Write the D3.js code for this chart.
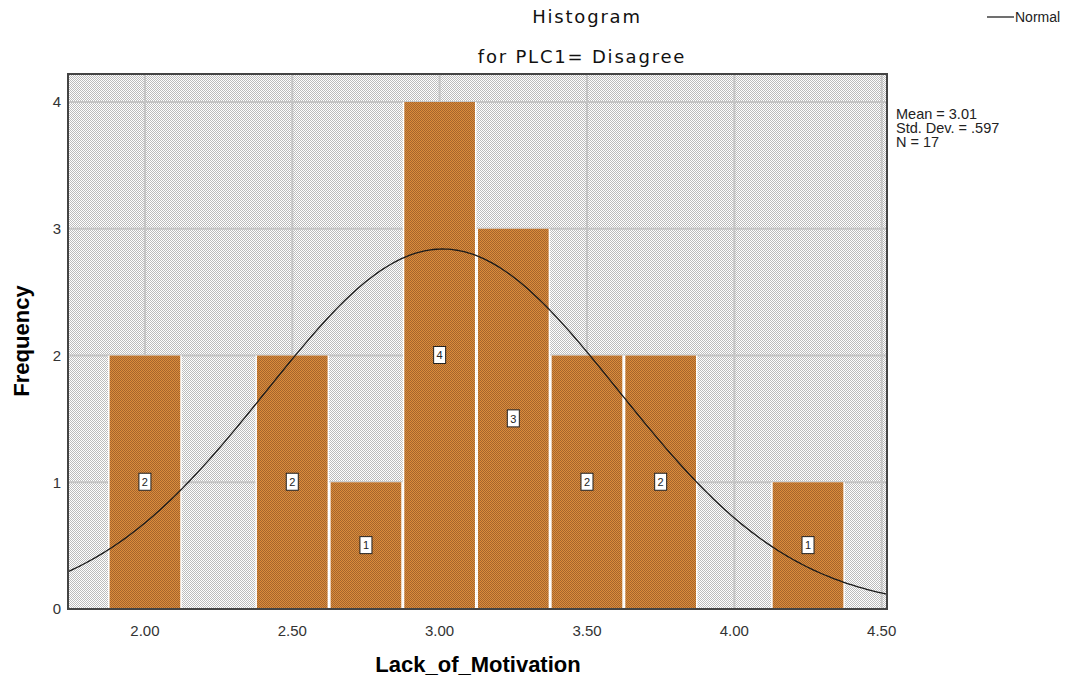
<!DOCTYPE html>
<html>
<head>
<meta charset="utf-8">
<script src="https://cdn.jsdelivr.net/npm/d3@7"></script>
<style>
  body { margin: 0; background: #fff; }
  svg { display: block; }
</style>
</head>
<body>
<svg id="chart" width="1068" height="684"></svg>
<script>
// bin centres and counts
const binCenters = [2.00, 2.25, 2.50, 2.75, 3.00, 3.25, 3.50, 3.75, 4.00, 4.25];
const counts = [2, 0, 2, 1, 4, 3, 2, 2, 0, 1];
const binWidth = 0.25;
const xTicks = [2.0, 2.5, 3.0, 3.5, 4.0, 4.5];
const yTicks = [0, 1, 2, 3, 4];
const statMean = 3.01, statSd = 0.597, statN = 17;

const svg = d3.select("#chart");
const margin = { top: 74, right: 181, bottom: 75, left: 68 };
const plotWidth = 1068 - margin.left - margin.right;
const plotHeight = 684 - margin.top - margin.bottom;

const x = d3.scaleLinear().domain([1.739, 4.518]).range([0, plotWidth]);
const y = d3.scaleLinear().domain([0, 4]).range([plotHeight, plotHeight - 507]);

const defs = svg.append("defs");
const bgPat = defs.append("pattern").attr("id", "bgdots")
  .attr("width", 2).attr("height", 2).attr("patternUnits", "userSpaceOnUse");
bgPat.append("rect").attr("width", 2).attr("height", 2).attr("fill", "#ffffff");
bgPat.append("rect").attr("width", 1).attr("height", 1).attr("fill", "#bcbcbc");
bgPat.append("rect").attr("x", 1).attr("y", 1).attr("width", 1).attr("height", 1).attr("fill", "#bcbcbc");

const barPat = defs.append("pattern").attr("id", "bardots")
  .attr("width", 2).attr("height", 2).attr("patternUnits", "userSpaceOnUse");
barPat.append("rect").attr("width", 2).attr("height", 2).attr("fill", "#db8c3c");
barPat.append("rect").attr("width", 1).attr("height", 1).attr("fill", "#a5652c");
barPat.append("rect").attr("x", 1).attr("y", 1).attr("width", 1).attr("height", 1).attr("fill", "#a5652c");

defs.append("clipPath").attr("id", "clip")
  .append("rect").attr("width", plotWidth).attr("height", plotHeight);

const g = svg.append("g")
  .attr("transform", `translate(${margin.left},${margin.top})`);

g.append("rect")
  .attr("width", plotWidth).attr("height", plotHeight)
  .attr("fill", "url(#bgdots)");

// grid
g.selectAll(".vgrid").data(xTicks).join("line")
  .attr("x1", d => x(d)).attr("x2", d => x(d))
  .attr("y1", 0).attr("y2", plotHeight)
  .attr("stroke", "#c4c4c4").attr("stroke-width", 2);
g.selectAll(".hgrid").data(yTicks.slice(1)).join("line")
  .attr("x1", 0).attr("x2", plotWidth)
  .attr("y1", d => y(d)).attr("y2", d => y(d))
  .attr("stroke", "#c4c4c4").attr("stroke-width", 2);

const bins = binCenters.map((c, i) => ({ c, n: counts[i] })).filter(d => d.n > 0);

// white gap between neighbouring bars
g.selectAll(".barbg").data(bins).join("rect")
  .attr("x", d => x(d.c - binWidth / 2))
  .attr("width", d => x(d.c + binWidth / 2) - x(d.c - binWidth / 2))
  .attr("y", d => y(d.n))
  .attr("height", d => plotHeight - y(d.n))
  .attr("fill", "#ffffff");
g.selectAll(".bar").data(bins).join("rect")
  .attr("x", d => x(d.c - binWidth / 2) + 1.5)
  .attr("width", d => x(d.c + binWidth / 2) - x(d.c - binWidth / 2) - 3)
  .attr("y", d => y(d.n))
  .attr("height", d => plotHeight - y(d.n))
  .attr("fill", "url(#bardots)");

// normal curve
const pdf = v => statN * binWidth / (statSd * Math.sqrt(2 * Math.PI)) *
  Math.exp(-0.5 * ((v - statMean) / statSd) ** 2);
const curvePts = d3.range(x.domain()[0], x.domain()[1] + 0.005, 0.01);
g.append("path")
  .datum(curvePts)
  .attr("clip-path", "url(#clip)")
  .attr("d", d3.line().x(d => x(d)).y(d => y(pdf(d))))
  .attr("fill", "none").attr("stroke", "#1a1a1a").attr("stroke-width", 1.3);

// count labels
const lab = g.selectAll(".lab").data(bins).join("g")
  .attr("transform", d => `translate(${x(d.c)},${y(d.n / 2)})`);
lab.append("rect")
  .attr("x", -6).attr("y", -9).attr("width", 12).attr("height", 17)
  .attr("fill", "#fff").attr("stroke", "#222").attr("stroke-width", 1);
lab.append("text")
  .attr("text-anchor", "middle").attr("dy", "0.35em")
  .attr("font-family", "Liberation Sans, Arial, sans-serif")
  .attr("font-size", 11).attr("fill", "#222")
  .text(d => d.n);

// border
g.append("rect")
  .attr("width", plotWidth).attr("height", plotHeight)
  .attr("fill", "none").attr("stroke", "#444").attr("stroke-width", 2);

// tick labels
g.selectAll(".xt").data(xTicks).join("text")
  .attr("x", d => x(d)).attr("y", plotHeight + 27)
  .attr("text-anchor", "middle")
  .attr("font-family", "Liberation Sans, Arial, sans-serif")
  .attr("font-size", 15).attr("fill", "#333")
  .text(d => d3.format(".2f")(d));
g.selectAll(".yt").data(yTicks).join("text")
  .attr("x", -7).attr("y", d => y(d)).attr("dy", "0.35em")
  .attr("text-anchor", "end")
  .attr("font-family", "Liberation Sans, Arial, sans-serif")
  .attr("font-size", 15).attr("fill", "#333")
  .text(d => d);

// axis titles
svg.append("text")
  .attr("x", 478).attr("y", 672)
  .attr("text-anchor", "middle")
  .attr("font-family", "Liberation Sans, Arial, sans-serif")
  .attr("font-size", 22).attr("font-weight", "bold")
  .text("Lack_of_Motivation");
svg.append("text")
  .attr("transform", "translate(29,341) rotate(-90)")
  .attr("text-anchor", "middle")
  .attr("font-family", "Liberation Sans, Arial, sans-serif")
  .attr("font-size", 22).attr("font-weight", "bold")
  .text("Frequency");

// titles
svg.append("text")
  .attr("x", 587).attr("y", 23)
  .attr("text-anchor", "middle")
  .attr("font-family", "DejaVu Sans, sans-serif")
  .attr("font-size", 18).attr("letter-spacing", 1.8).attr("fill", "#111")
  .text("Histogram");
svg.append("text")
  .attr("x", 582).attr("y", 63)
  .attr("text-anchor", "middle")
  .attr("font-family", "DejaVu Sans, sans-serif")
  .attr("font-size", 18).attr("letter-spacing", 1.8).attr("fill", "#111")
  .text("for PLC1= Disagree");

// legend
svg.append("line")
  .attr("x1", 987).attr("x2", 1014).attr("y1", 17).attr("y2", 17)
  .attr("stroke", "#222").attr("stroke-width", 1.3);
svg.append("text")
  .attr("x", 1015).attr("y", 22)
  .attr("font-family", "Liberation Sans, Arial, sans-serif")
  .attr("font-size", 14).attr("fill", "#222")
  .text("Normal");

// stats box
const statLines = [`Mean = ${statMean.toFixed(2)}`, `Std. Dev. = ${d3.format(".3f")(statSd).replace(/^0/, "")}`, `N = ${statN}`];
svg.selectAll(".stat").data(statLines).join("text")
  .attr("x", 896).attr("y", (d, i) => 119 + i * 14)
  .attr("font-family", "Liberation Sans, Arial, sans-serif")
  .attr("font-size", 14.5).attr("fill", "#222")
  .text(d => d);
</script>
</body>
</html>
